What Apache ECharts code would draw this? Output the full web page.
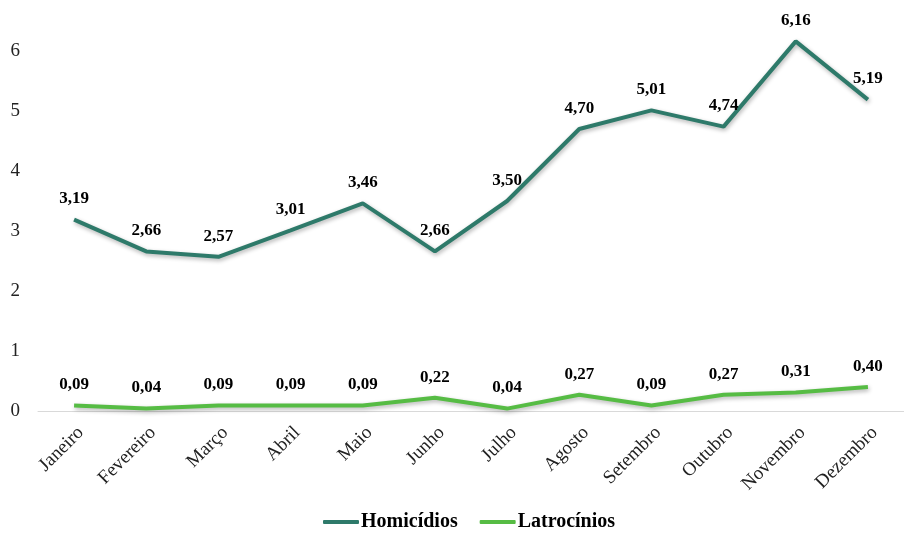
<!DOCTYPE html>
<html>
<head>
<meta charset="utf-8">
<script src="https://cdn.jsdelivr.net/npm/echarts@6/dist/echarts.min.js"></script>
<style>
  html, body { margin: 0; padding: 0; background: #fff; }
  #chart { width: 904px; height: 537px; }
</style>
</head>
<body>
<div id="chart"></div>
<script>
// Monthly rates
const months = ['Janeiro', 'Fevereiro', 'Março', 'Abril', 'Maio', 'Junho', 'Julho', 'Agosto', 'Setembro', 'Outubro', 'Novembro', 'Dezembro'];
const homicidios = [3.19, 2.66, 2.57, 3.01, 3.46, 2.66, 3.50, 4.70, 5.01, 4.74, 6.16, 5.19];
const latrocinios = [0.09, 0.04, 0.09, 0.09, 0.09, 0.22, 0.04, 0.27, 0.09, 0.27, 0.31, 0.40];
const seriesNames = ['Homicídios', 'Latrocínios'];
const colors = ['#2e7a6a', '#56bc44'];

const serif = '"Liberation Serif", "Times New Roman", serif';
const fmt = v => v.toFixed(2).replace('.', ',');

function makeSeries(name, data, color) {
  return {
    name: name,
    type: 'line',
    data: data,
    clip: false,
    symbol: 'circle',
    symbolSize: 0,
    showSymbol: true,
    lineStyle: {
      width: 4,
      color: color,
      shadowColor: 'rgba(0,0,0,0.3)',
      shadowBlur: 4,
      shadowOffsetX: 1,
      shadowOffsetY: 2
    },
    itemStyle: { color: color },
    label: {
      show: true,
      position: 'top',
      distance: 12,
      formatter: p => fmt(p.value),
      fontFamily: serif,
      fontWeight: 'bold',
      fontSize: 17,
      color: '#000'
    }
  };
}

const chart = echarts.init(document.getElementById('chart'), null, { renderer: 'canvas' });
chart.setOption({
  animation: false,
  backgroundColor: '#fff',
  grid: { left: 38, right: -16, top: 51, bottom: 126, containLabel: false },
  legend: {
    bottom: 0,
    left: 318,
    itemWidth: 36,
    itemHeight: 4,
    itemGap: 22,
    icon: 'roundRect',
    textStyle: { fontFamily: serif, fontWeight: 'bold', fontSize: 20, color: '#000', padding: [0, 0, 0, -3] },
    data: seriesNames
  },
  xAxis: {
    type: 'category',
    data: months,
    boundaryGap: true,
    axisLine: { show: true, lineStyle: { color: '#d9d9d9', width: 1 } },
    axisTick: { show: false },
    axisLabel: {
      rotate: 45,
      margin: 12,
      interval: 0,
      verticalAlign: 'top',
      fontFamily: serif,
      fontSize: 19,
      color: '#222'
    }
  },
  yAxis: {
    type: 'value',
    min: 0,
    max: 6,
    interval: 1,
    axisLine: { show: false },
    axisTick: { show: false },
    splitLine: { show: false },
    axisLabel: {
      margin: 18,
      fontFamily: serif,
      fontSize: 19,
      color: '#222'
    }
  },
  series: [
    makeSeries(seriesNames[0], homicidios, colors[0]),
    makeSeries(seriesNames[1], latrocinios, colors[1])
  ]
});
</script>
</body>
</html>
